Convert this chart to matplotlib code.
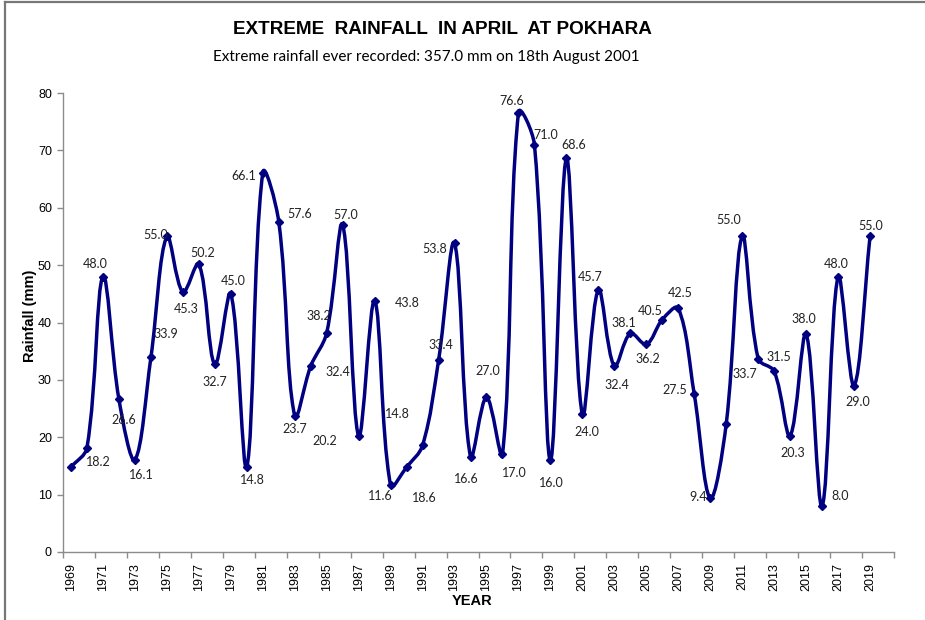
import numpy as np
import matplotlib
matplotlib.use('Agg')
from matplotlib import pyplot as plt
from matplotlib.path import Path
from matplotlib.patches import PathPatch
from matplotlib.lines import Line2D

# data
years = list(range(1969, 2020))
rainfall = [14.8, 18.2, 48.0, 26.6, 16.1, 33.9, 55.0, 45.3, 50.2, 32.7,
            45.0, 14.8, 66.1, 57.6, 23.7, 32.4, 38.2, 57.0, 20.2, 43.8,
            11.6, 14.8, 18.6, 33.4, 53.8, 16.6, 27.0, 17.0, 76.6, 71.0,
            16.0, 68.6, 24.0, 45.7, 32.4, 38.1, 36.2, 40.5, 42.5, 27.5,
            9.4, 22.3, 55.0, 33.7, 31.5, 20.3, 38.0, 8.0, 48.0, 29.0, 55.0]
tick_years = list(range(1969, 2020, 2))

# where each value label sits relative to its point (pixels, down is +)
label_offsets = [None, (11, 14), (-8, -13), (5, 21), (6, 15), (15, -23), (-11, -1),
                 (3, 17), (4, -11), (0, 18), (2, -13), (6, 13), (-19, 3), (21, -8),
                 (0, 13), (27, 6), (-8, -17), (3, -10), (-34, 5), (33, 2), (-10, 11),
                 (-9, -53), (2, 53), (2, -15), (-20, 6), (-4, 22), (1, -26), (12, 19),
                 (-7, -12), (11, -10), (1, 23), (7, -13), (4, 18), (-8, -13), (3, 19),
                 (-6, -10), (2, 15), (-12, -9), (2, -15), (-19, -4), (-12, -1), None,
                 (-13, -16), (-13, 15), (5, -14), (3, 17), (-2, -15), (18, -10),
                 (-2, -13), (4, 16), (1, -10)]

NAVY = '#000080'
GREY = '#8c8c8c'

fig = plt.figure(figsize=(9.25, 6.2), dpi=100)
ax = fig.add_axes([63 / 925, 1 - 552 / 620, (894 - 63) / 925, (552 - 93) / 620])
ax.set_xlim(1968.5, 2020.5)
ax.set_ylim(0, 80)

# excel style smoothing: bezier control points scaled by neighbouring
# segment lengths measured on screen
fig.canvas.draw()
pts = ax.transData.transform(np.column_stack([years, rainfall]))
n = len(pts)
t = 0.36
ctrl_in = [None] * n
ctrl_out = [None] * n
for i in range(n):
    p0 = pts[max(i - 1, 0)]
    p1 = pts[i]
    p2 = pts[min(i + 1, n - 1)]
    d01 = np.hypot(*(p1 - p0))
    d12 = np.hypot(*(p2 - p1))
    tot = d01 + d12 if d01 + d12 > 0 else 1
    ctrl_in[i] = p1 - (p2 - p0) * t * d01 / tot
    ctrl_out[i] = p1 + (p2 - p0) * t * d12 / tot
inv = ax.transData.inverted()
verts = [tuple(inv.transform(pts[0]))]
codes = [Path.MOVETO]
for i in range(n - 1):
    verts += [tuple(inv.transform(ctrl_out[i])), tuple(inv.transform(ctrl_in[i + 1])),
              tuple(inv.transform(pts[i + 1]))]
    codes += [Path.CURVE4] * 3
ax.add_patch(PathPatch(Path(verts, codes), fill=False, edgecolor=NAVY, lw=2.5,
                       capstyle='round', joinstyle='round'))
ax.plot(years, rainfall, linestyle='none', marker='D', ms=4, color=NAVY)

for yr, val, off in zip(years, rainfall, label_offsets):
    if off is None:
        continue
    ax.annotate(f'{val:.1f}', (yr, val), xytext=(off[0], -off[1]),
                textcoords='offset pixels', ha='center', va='center',
                fontsize=9, family='Lato', color='#222222')

ax.set_yticks(range(0, 81, 10))
ax.set_xticks(tick_years)
ax.set_xticklabels([str(t) for t in tick_years], rotation=90,
                   family='Liberation Sans', fontsize=9)
ax.set_xticks(np.arange(1968.5, 2021, 2), minor=True)
ax.tick_params(axis='x', which='major', length=0, pad=8)
ax.tick_params(axis='x', which='minor', length=4, color=GREY, width=1)
ax.tick_params(axis='y', length=4, color=GREY, width=1, pad=4, labelsize=9)
for lab in ax.get_yticklabels():
    lab.set_family('Liberation Sans')

for s in ['top', 'right']:
    ax.spines[s].set_visible(False)
for s in ['left', 'bottom']:
    ax.spines[s].set_color(GREY)
    ax.spines[s].set_linewidth(1)

fig.text(30 / 925, 1 - 316 / 620, 'Rainfall (mm)', rotation=90, ha='center', va='center',
         family='Liberation Sans', fontweight='bold', fontsize=10.5)
fig.text(472 / 925, 1 - 601 / 620, 'YEAR', ha='center', va='center',
         family='Liberation Sans', fontweight='bold', fontsize=10.5)

fig.text(442 / 925, 1 - 29 / 620, 'EXTREME  RAINFALL  IN APRIL  AT POKHARA',
         ha='center', va='center', family='Liberation Sans', fontweight='bold', fontsize=13.6)
fig.text(426 / 925, 1 - 57 / 620, 'Extreme rainfall ever recorded: 357.0 mm on 18th August 2001',
         ha='center', va='center', family='Lato', fontsize=11)

# outer chart border (left and top only visible)
fig.add_artist(Line2D([5 / 925, 5 / 925], [0, 1 - 2 / 620], color='#777777', lw=1.6))
fig.add_artist(Line2D([5 / 925, 1], [1 - 2 / 620, 1 - 2 / 620], color='#777777', lw=1.6))

fig.savefig('out.png', dpi=100)
